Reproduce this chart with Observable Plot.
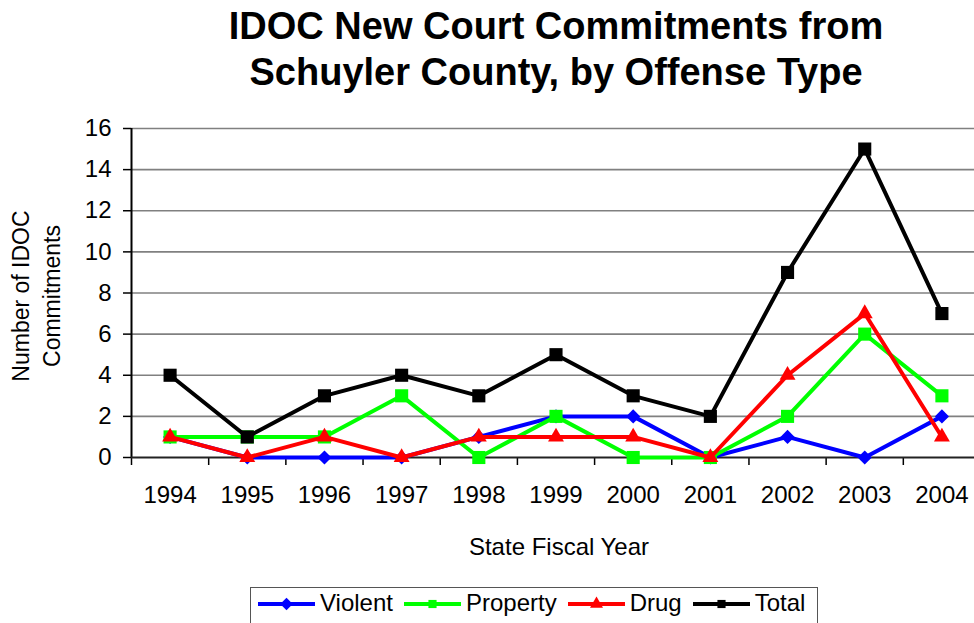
<!DOCTYPE html>
<html>
<head>
<meta charset="utf-8">
<script src="https://cdn.jsdelivr.net/npm/d3@7"></script>
<script src="https://cdn.jsdelivr.net/npm/@observablehq/plot@0.6"></script>
<style>
  body { margin: 0; background: #fff; overflow: hidden; font-family: Arial, "Liberation Sans", sans-serif; color: #000; }
  #wrap { position: relative; width: 974px; height: 623px; overflow: hidden; background: #fff; }
  #chart { position: absolute; left: 0; top: 0; }
  .title { position: absolute; left: 556px; transform: translateX(-50%); white-space: nowrap;
           font-weight: bold; font-size: 38px; line-height: 38px; }
  #ylab { position: absolute; left: -113px; top: 265px; width: 300px; height: 62px; text-align: center;
          font-size: 23px; line-height: 31px; transform: rotate(-90deg); transform-origin: 50% 50%; white-space: nowrap; }
  #xlab { position: absolute; left: 559px; top: 535px; transform: translateX(-50%); font-size: 24px; line-height: 24px; white-space: nowrap; }
  #legend { position: absolute; left: 250px; top: 587px; width: 568px; height: 44px; border: 1.5px solid #555;
            box-sizing: border-box; display: flex; align-items: flex-start; padding-left: 7px; padding-top: 1px; }
  .item { display: flex; align-items: center; font-size: 24px; line-height: 28px; margin-right: 11px; white-space: nowrap; }
  .item svg { margin-right: 5px; }
</style>
</head>
<body>
<div id="wrap">
  <div id="chart"></div>
  <div class="title" style="top:7px">IDOC New Court Commitments from</div>
  <div class="title" style="top:53px">Schuyler County, by Offense Type</div>
  <div id="ylab">Number of IDOC<br>Commitments</div>
  <div id="xlab">State Fiscal Year</div>
  <div id="legend"></div>
</div>
<script>
const years    = [1994, 1995, 1996, 1997, 1998, 1999, 2000, 2001, 2002, 2003, 2004];
const violent  = [1, 0, 0, 0, 1, 2, 2, 0, 1, 0, 2];
const property = [1, 1, 1, 3, 0, 2, 0, 0, 2, 6, 3];
const drug     = [1, 0, 1, 0, 1, 1, 1, 0, 4, 7, 1];
const total    = [4, 1, 3, 4, 3, 5, 3, 2, 9, 15, 7];
const yTicks   = [0, 2, 4, 6, 8, 10, 12, 14, 16];
const seriesNames = ["Violent", "Property", "Drug", "Total"];
const seriesColors = ["#0000FF", "#00FF00", "#FF0000", "#000000"];
const seriesSymbols = ["diamond2", "square", "triangle2", "square"];
const seriesR = [6.4, 7.4, 7.6, 7.4];
const seriesValues = [violent, property, drug, total];

const boundaries = years.map(y => y - 0.5).concat([years[years.length - 1] + 0.5]);
const xDomain = [boundaries[0], boundaries[boundaries.length - 1]];

const seriesData = seriesNames.map((name, i) =>
  years.map((year, j) => ({ series: name, year, value: seriesValues[i][j] }))
);

const marks = [
  Plot.ruleY(yTicks.filter(d => d > 0), { stroke: "#808080", strokeWidth: 1.6 }),
  Plot.axisY({ ticks: yTicks, tickSize: 8, tickPadding: 12, fontSize: 24, label: null, strokeWidth: 1.5 }),
  Plot.axisX({ ticks: boundaries, tickSize: 8, tickFormat: () => "", label: null, strokeWidth: 1.5 }),
  Plot.axisX({ ticks: years, tickSize: 0, tickPadding: 28, fontSize: 24, tickFormat: d => String(d), label: null }),
  Plot.ruleX([xDomain[0]], { stroke: "#000", strokeWidth: 2 }),
  Plot.ruleY([0], { stroke: "#222", strokeWidth: 2 })
];
seriesData.forEach((rows, i) => {
  marks.push(Plot.line(rows, { x: "year", y: "value", stroke: seriesColors[i], strokeWidth: 4 }));
  marks.push(Plot.dot(rows, { x: "year", y: "value", symbol: () => seriesSymbols[i], fill: seriesColors[i], stroke: "none", r: seriesR[i] }));
});

const chart = Plot.plot({
  width: 974,
  height: 623,
  marginTop: 128,
  marginBottom: 166,
  marginLeft: 131,
  marginRight: 0,
  style: { fontFamily: 'Arial, "Liberation Sans", sans-serif', fontSize: "24px", background: "transparent", color: "#000", overflow: "visible" },
  x: { type: "linear", domain: xDomain, range: [131, 980] },
  y: { domain: [0, 16] },
  symbol: { type: "identity" },
  marks
});
document.getElementById("chart").appendChild(chart);

// legend
const legend = document.getElementById("legend");
const symbolPaths = {
  diamond2: d3.symbol(d3.symbolDiamond2, Math.PI * 5.6 * 5.6)(),
  square: d3.symbol(d3.symbolSquare, Math.PI * 4.6 * 4.6)(),
  triangle2: d3.symbol(d3.symbolTriangle2, Math.PI * 6.2 * 6.2)()
};
seriesNames.forEach((name, i) => {
  const item = document.createElement("div");
  item.className = "item";
  const ns = "http://www.w3.org/2000/svg";
  const svg = document.createElementNS(ns, "svg");
  svg.setAttribute("width", 57);
  svg.setAttribute("height", 28);
  const line = document.createElementNS(ns, "line");
  line.setAttribute("x1", 0); line.setAttribute("x2", 57);
  line.setAttribute("y1", 15); line.setAttribute("y2", 15);
  line.setAttribute("stroke", seriesColors[i]); line.setAttribute("stroke-width", 4);
  svg.appendChild(line);
  const p = document.createElementNS(ns, "path");
  p.setAttribute("d", symbolPaths[seriesSymbols[i]]);
  p.setAttribute("transform", "translate(28.5,15)");
  p.setAttribute("fill", seriesColors[i]);
  svg.appendChild(p);
  item.appendChild(svg);
  const span = document.createElement("span");
  span.textContent = name;
  item.appendChild(span);
  legend.appendChild(item);
});
</script>
</body>
</html>
